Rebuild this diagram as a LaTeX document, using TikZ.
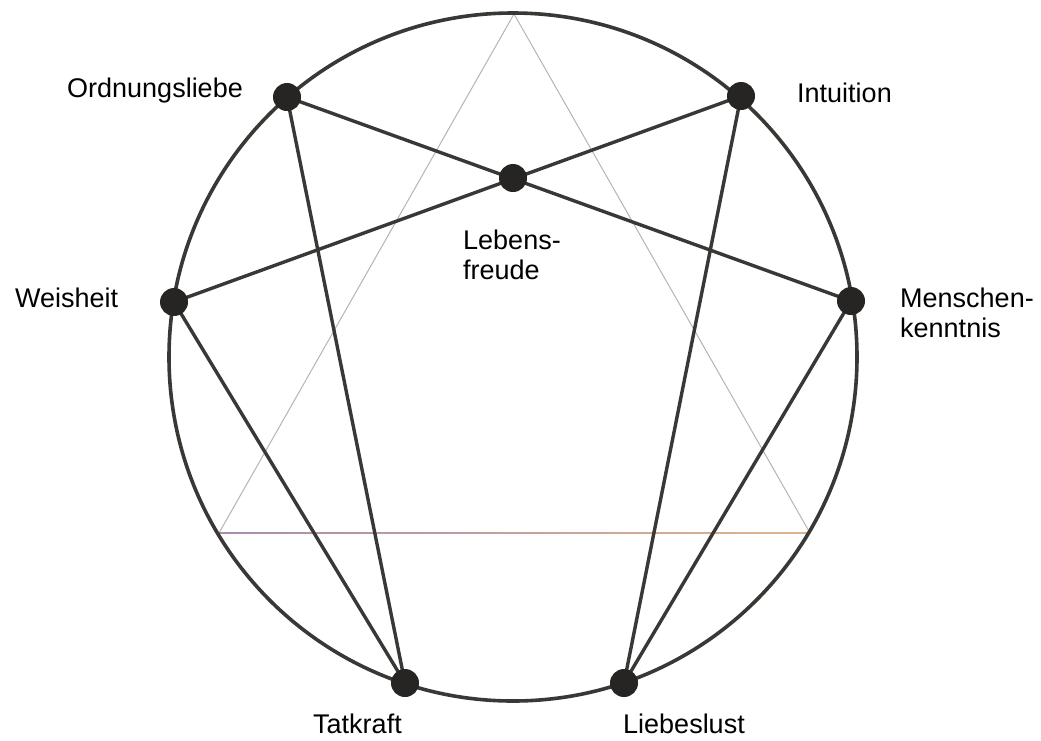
\documentclass[tikz,border=0pt]{standalone}
\usepackage{fontspec}
\setmainfont{Liberation Sans}
\definecolor{ringcol}{HTML}{3A3835}
\definecolor{dotcol}{HTML}{262524}
\definecolor{tricol}{HTML}{B5B5B5}
\definecolor{lpurple}{HTML}{A98CAC}
\definecolor{ltan}{HTML}{DDB68E}
\tikzset{
  ring/.style={draw=ringcol, line width=3.6pt},
  link/.style={draw=ringcol, line width=3.4pt},
  tri/.style={draw=tricol, line width=1pt},
  dot/.style={circle, fill=dotcol, inner sep=0pt, minimum size=28pt},
  lbl/.style={anchor=base west, inner sep=0pt, font=\fontsize{27}{30}\selectfont, text=black},
}
\begin{document}
\begin{tikzpicture}[x=1pt,y=-1pt]
\useasboundingbox[fill=white] (0,0) rectangle (1041,740);
% vertices
\coordinate (center) at (513,357);
\coordinate (T1) at (514,14);
\coordinate (T2) at (219,533);
\coordinate (T3) at (810,533);
\coordinate (ord) at (287,97);
\coordinate (int) at (741,96);
\coordinate (leb) at (513,178);
\coordinate (wei) at (174,302);
\coordinate (men) at (851,301);
\coordinate (tat) at (405,683);
\coordinate (lie) at (624,683);
% inscribed triangle
\draw[tri] (T2) -- (T1) -- (T3);
\shade[left color=lpurple, right color=ltan] (219,532.2) rectangle (810,533.8);
% circle
\draw[ring] (center) circle[radius=344];
% connectors
\draw[link] (ord) -- (men);
\draw[link] (int) -- (wei);
\draw[link] (ord) -- (tat);
\draw[link] (wei) -- (tat);
\draw[link] (int) -- (lie);
\draw[link] (men) -- (lie);
% dots
\node[dot] (dord) at (ord) {};
\node[dot] (dint) at (int) {};
\node[dot] (dleb) at (leb) {};
\node[dot] (dwei) at (wei) {};
\node[dot] (dmen) at (men) {};
\node[dot] (dtat) at (tat) {};
\node[dot] (dlie) at (lie) {};
% labels
\node[lbl] (lord) at (67,97) {Ordnungsliebe};
\node[lbl] (lint) at (797,102) {Intuition};
\node[lbl] (lleb1) at (463,249) {Lebens-};
\node[lbl] (lleb2) at (463,279) {freude};
\node[lbl] (lwei) at (15,307) {Weisheit};
\node[lbl] (lmen1) at (900,307) {Menschen-};
\node[lbl] (lmen2) at (900,337) {kenntnis};
\node[lbl] (ltat) at (313,733) {Tatkraft};
\node[lbl] (llie) at (623,733) {Liebeslust};
\end{tikzpicture}
\end{document}
